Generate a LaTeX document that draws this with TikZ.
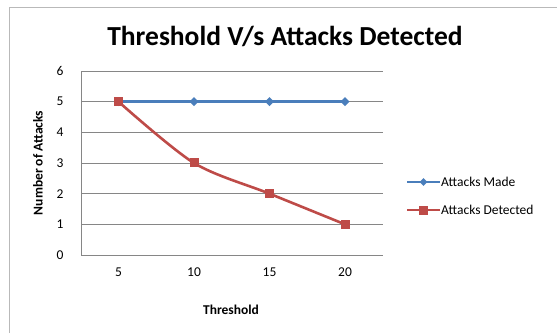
\documentclass[tikz,border=0pt]{standalone}
\usepackage{fontspec}
\setmainfont{Carlito}
\usetikzlibrary{shapes.geometric}
\definecolor{madeblue}{HTML}{4A7EBB}
\definecolor{detred}{HTML}{BE4B48}
\definecolor{gridgray}{HTML}{868686}

\begin{document}
\begin{tikzpicture}[x=1pt,y=-1pt,
  gridline/.style={draw=gridgray, line width=0.8pt},
  madeline/.style={draw=madeblue, line width=2.6pt},
  detline/.style={draw=detred, line width=2.6pt},
  mademark/.style={diamond, fill=madeblue, inner sep=0pt, minimum size=9pt},
  detmark/.style={rectangle, fill=detred, inner sep=0pt, minimum size=9pt},
  ticklabel/.style={font=\fontsize{13.5}{16}\selectfont},
  axislabel/.style={font=\bfseries\fontsize{13.5}{16}\selectfont}]
\useasboundingbox (0,0) rectangle (557,333);
% chart frame and title
\draw[gray!55, line width=1.6pt] (9.5,333) -- (9.5,7.5) -- (557,7.5);
\node[font=\bfseries\fontsize{27.5}{32}\selectfont] (title) at (285,36) {Threshold V/s Attacks Detected};

% define the grid and the axes
\foreach \v in {1,...,6}
  \draw[gridline] (81,255-30.67*\v) -- (383,255-30.67*\v);
\draw[gridline] (81,71) -- (81,255) -- (383,255);
\foreach \v in {0,...,6}
  \node[ticklabel, anchor=east] (y\v) at (67,255-30.67*\v) {\v};
\node[axislabel, rotate=90] (ylab) at (38,163) {Number of Attacks};
\node[axislabel] (xlab) at (231,310) {Threshold};

% define the data points
\foreach \t/\a/\d [count=\i] in {5/5/5, 10/5/3, 15/5/2, 20/5/1} {
  \coordinate (m\i) at (118.5+75.5*\i-75.5, 255-30.67*\a);
  \coordinate (d\i) at (118.5+75.5*\i-75.5, 255-30.67*\d);
  \node[ticklabel] (x\i) at (118.5+75.5*\i-75.5, 272) {\t};
}

% draw the series
\draw[madeline] (m1) -- (m2) -- (m3) -- (m4);
\foreach \i in {1,...,4}
  \node[mademark] (mm\i) at (m\i) {};
\draw[detline] plot[smooth, tension=0.5] coordinates {(d1) (d2) (d3) (d4)};
\foreach \i in {1,...,4}
  \node[detmark] (dm\i) at (d\i) {};

% legend
\coordinate (lma) at (407,182);
\coordinate (lmb) at (440,182);
\coordinate (lda) at (407,210);
\coordinate (ldb) at (440,210);
\draw[madeline, line width=2pt] (lma) -- (lmb);
\node[mademark, minimum size=8pt] (lmm) at (423.5,182) {};
\node[ticklabel, anchor=west, inner sep=1pt] (lmt) at (lmb) {Attacks Made};
\draw[detline, line width=2pt] (lda) -- (ldb);
\node[detmark] (ldm) at (423.5,210) {};
\node[ticklabel, anchor=west, inner sep=1pt] (ldt) at (ldb) {Attacks Detected};
\end{tikzpicture}
\end{document}
